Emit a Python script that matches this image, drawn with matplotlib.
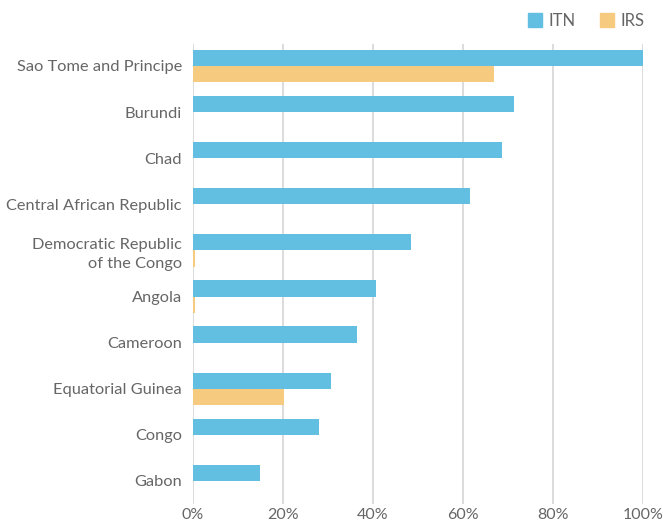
import matplotlib
matplotlib.use("Agg")
import matplotlib.pyplot as plt
from matplotlib.lines import Line2D
import numpy as np

plt.rcParams['font.family'] = ['Lato', 'DejaVu Sans']

countries = ["Sao Tome and Principe", "Burundi", "Chad", "Central African Republic",
             "Democratic Republic\nof the Congo", "Angola", "Cameroon",
             "Equatorial Guinea", "Congo", "Gabon"]
itn = [100, 71.3, 68.7, 61.6, 48.4, 40.7, 36.4, 30.7, 28.0, 14.9]
irs = [66.9, 0, 0, 0, 0.5, 0.5, 0, 20.2, 0, 0]
xticks = [0, 20, 40, 60, 80, 100]
xticklabels = ["0%", "20%", "40%", "60%", "80%", "100%"]

c_itn = "#62bfe1"
c_irs = "#f6ca7f"
txt = "#666666"

fig = plt.figure(figsize=(6.63, 5.24), dpi=100)
ax = fig.add_axes([193/663, 1-504/524, 450/663, 460/524])

y = np.arange(len(countries))
h = 0.35
ax.barh(y - h/2, itn, height=h, color=c_itn, zorder=3)
ax.barh(y + h/2, irs, height=h, color=c_irs, zorder=3)

ax.set_ylim(len(countries) - 1 + 0.5, -0.476)
ax.set_xlim(0, 100)
ax.set_yticks(y)
ax.set_yticklabels(countries, fontsize=11.8, color=txt)
for lab in ax.get_yticklabels():
    lab.set_horizontalalignment('right')
    lab.set_linespacing(1.45)
ax.set_xticks(xticks)
ax.set_xticklabels(xticklabels, fontsize=11.5, color=txt)
ax.tick_params(axis='both', length=0)
ax.tick_params(axis='y', pad=8)
ax.tick_params(axis='x', pad=3)
ax.grid(axis='x', color="#d9d9d9", linewidth=1.3, zorder=0)
for s in ax.spines.values():
    s.set_visible(False)

handles = [Line2D([], [], marker='s', linestyle='none', markersize=10, color=c_itn),
           Line2D([], [], marker='s', linestyle='none', markersize=10, color=c_irs)]
fig.legend(handles, ["ITN", "IRS"], loc='center right', bbox_to_anchor=(0.995, 1-21/524),
           ncol=2, frameon=False, fontsize=12, labelcolor=txt, handletextpad=0.3,
           columnspacing=1.4, handlelength=1.0)

fig.savefig("out.png", dpi=100)
